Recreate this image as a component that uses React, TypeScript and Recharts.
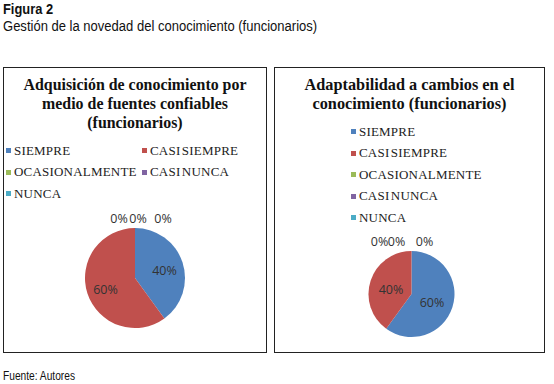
import { Cell, Legend, Pie, PieChart } from 'recharts';

const categorias = ['SIEMPRE', 'CASI SIEMPRE', 'OCASIONALMENTE', 'CASI NUNCA', 'NUNCA'];
const colores = ['#4F81BD', '#C0504D', '#9BBB59', '#8064A2', '#4BACC6'];
const valoresFuentes = [40, 60, 0, 0, 0];
const valoresCambios = [60, 40, 0, 0, 0];

const SERIF = '"Liberation Serif", "Times New Roman", serif';
const SANS = '"Liberation Sans", Arial, sans-serif';

function armar(valores: number[]) {
  return categorias.map((c, i) => ({ name: c, valor: valores[i] }));
}

// etiquetas estilo Excel: los 0% se apilan encima del pastel
function etiqueta(factor: number, desplCero: number[]) {
  return (p: any) => {
    const { cx, cy, midAngle, outerRadius, value, index } = p;
    let x: number;
    let y: number;
    if (value === 0) {
      x = cx + (desplCero[index - 2] ?? 0);
      y = cy - outerRadius - 10;
    } else {
      const rad = Math.PI / 180;
      x = cx + outerRadius * factor * Math.cos(-midAngle * rad);
      y = cy + outerRadius * factor * Math.sin(-midAngle * rad) + 2;
    }
    return (
      <text
        x={x}
        y={y}
        textAnchor="middle"
        dominantBaseline="central"
        fontSize={12.5}
        fontFamily='"Open Sans", "Liberation Sans", sans-serif'
        fill="#333"
      >
        {`${value}%`}
      </text>
    );
  };
}

function leyenda(columnas: string) {
  return (props: any) => {
    const items = [...(props.payload ?? [])].sort(
      (a: any, b: any) => categorias.indexOf(a.value) - categorias.indexOf(b.value),
    );
    return (
      <div style={{ display: 'grid', gridTemplateColumns: columnas, rowGap: 0 }}>
        {items.map((it: any) => (
          <div
            key={it.value}
            style={{ display: 'flex', alignItems: 'center', height: 21.5, whiteSpace: 'nowrap' }}
          >
            <span style={{ width: 5, height: 5, background: it.color, marginRight: 3, display: 'inline-block' }} />
            <span style={{ fontFamily: SERIF, fontSize: 13, color: '#222', letterSpacing: 0.2, wordSpacing: -2 }}>
              {it.value}
            </span>
          </div>
        ))}
      </div>
    );
  };
}

interface Props {
  left: number;
  width: number;
  titulo: string[];
  tituloSize: number;
  valores: number[];
  cx: number;
  cy: number;
  radio: number;
  factor: number;
  desplCero: number[];
  legendTop: number;
  legendLeft: number;
  columnas: string;
}

function Grafica(p: Props) {
  const w = p.width - 3;
  return (
    <div
      style={{
        position: 'absolute',
        left: p.left,
        top: 67,
        width: p.width,
        height: 286,
        border: '1.5px solid #222',
        boxSizing: 'border-box',
        background: '#fff',
      }}
    >
      <div
        style={{
          position: 'absolute',
          top: 7,
          left: 0,
          right: 0,
          textAlign: 'center',
          fontFamily: SERIF,
          fontWeight: 'bold',
          fontSize: p.tituloSize,
          lineHeight: '19px',
          color: '#111',
        }}
      >
        {p.titulo.map((t) => (
          <div key={t}>{t}</div>
        ))}
      </div>
      <PieChart width={w} height={283} margin={{ top: 0, right: 0, bottom: 0, left: 0 }}>
        <Legend
          content={leyenda(p.columnas)}
          wrapperStyle={{ position: 'absolute', top: p.legendTop, left: p.legendLeft, width: 'auto' }}
        />
        <Pie
          data={armar(p.valores)}
          dataKey="valor"
          nameKey="name"
          cx={p.cx}
          cy={p.cy}
          outerRadius={p.radio}
          startAngle={90}
          endAngle={-270}
          stroke="none"
          labelLine={false}
          label={etiqueta(p.factor, p.desplCero)}
          isAnimationActive={false}
        >
          {categorias.map((c, i) => (
            <Cell key={c} fill={colores[i]} />
          ))}
        </Pie>
      </PieChart>
    </div>
  );
}

const angosto = (escala: number): React.CSSProperties => ({
  transform: `scaleX(${escala})`,
  transformOrigin: 'left',
  whiteSpace: 'nowrap',
});

export default function App() {
  return (
    <div style={{ position: 'absolute', left: 0, top: 0, width: 554, height: 384, background: '#fff' }}>
      <div style={{ position: 'absolute', left: 3, top: 1, fontFamily: SANS, color: '#111' }}>
        <div style={{ fontWeight: 'bold', fontSize: 14, lineHeight: '17px', ...angosto(0.92) }}>Figura 2</div>
        <div style={{ fontSize: 14, lineHeight: '17px', ...angosto(0.93) }}>
          Gestión de la novedad del conocimiento (funcionarios)
        </div>
      </div>
      <Grafica
        left={3}
        width={264}
        titulo={['Adquisición de conocimiento por', 'medio de fuentes confiables', '(funcionarios)']}
        tituloSize={15.9}
        valores={valoresFuentes}
        cx={131}
        cy={210}
        radio={50}
        factor={0.62}
        desplCero={[-16, 3, 28]}
        legendTop={72}
        legendLeft={2}
        columnas="136px auto"
      />
      <Grafica
        left={274}
        width={271}
        titulo={['Adaptabilidad a cambios en el', 'conocimiento (funcionarios)']}
        tituloSize={16.3}
        valores={valoresCambios}
        cx={136.5}
        cy={226}
        radio={43}
        factor={0.5}
        desplCero={[-32, -15, 13]}
        legendTop={53}
        legendLeft={76}
        columnas="auto"
      />
      <div
        style={{
          position: 'absolute',
          left: 3,
          top: 369,
          fontFamily: SANS,
          fontSize: 12,
          color: '#111',
          ...angosto(0.85),
        }}
      >
        Fuente: Autores
      </div>
    </div>
  );
}
